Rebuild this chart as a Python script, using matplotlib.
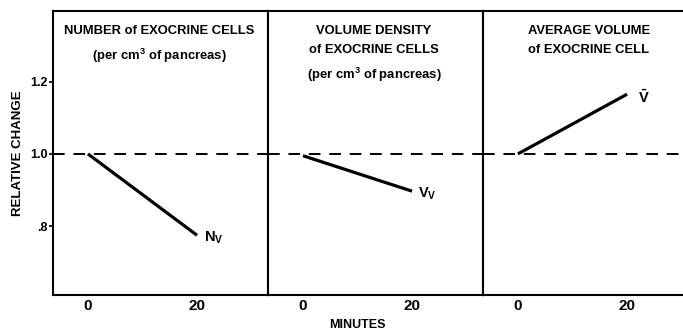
import matplotlib.pyplot as plt

plt.rcParams['font.family'] = ['Liberation Sans', 'DejaVu Sans']
plt.rcParams['font.weight'] = 'bold'
plt.rcParams['axes.labelweight'] = 'bold'
plt.rcParams['mathtext.fontset'] = 'custom'
plt.rcParams['mathtext.rm'] = 'Liberation Sans:bold'
plt.rcParams['mathtext.default'] = 'rm'

# relative change at 0 and 20 minutes, one series per panel
minutes = [0, 20]
n_v = [1.0, 0.775]
v_v = [0.995, 0.897]
v_bar = [1.0, 1.165]

titles = [
    'NUMBER of EXOCRINE CELLS\n(per cm$^3$ of pancreas)',
    'VOLUME DENSITY\nof EXOCRINE CELLS\n(per cm$^3$ of pancreas)',
    'AVERAGE VOLUME\nof EXOCRINE CELL',
]
labels = ['N$_V$', 'V$_V$', r'$\bar{V}$']
label_dx = [1.3, 1.0, 2.0]
series = [n_v, v_v, v_bar]
yticks = [0.8, 1.0, 1.2]
yticklabels = ['.8', '1.0', '1.2']

fig = plt.figure(figsize=(6.83, 3.33), dpi=100)

left = 53 / 683
w = 215 / 683
bottom = 38 / 333
h = 284 / 333

for i in range(3):
    ax = fig.add_axes([left + i * w, bottom, w, h])
    ax.set_xlim(-6.4, 33)
    ax.set_ylim(0.61, 1.395)
    ax.axhline(1.0, color='black', lw=1.4, ls=(0, (6, 4.5)))
    ax.plot(minutes, series[i], color='black', lw=2.3, solid_capstyle='butt')
    ax.text(minutes[1] + label_dx[i], series[i][1] - 0.008, labels[i],
            fontsize=10.5, ha='left', va='center')
    ax.text(13, 1.355, titles[i], ha='center', va='top', fontsize=9.4,
            linespacing=1.72)
    for s in ax.spines.values():
        s.set_linewidth(1.5)
    ax.set_xticks(minutes)
    ax.set_xticklabels(['0', '20'], fontsize=11)
    ax.tick_params(axis='x', length=0, pad=3)
    if i == 0:
        ax.set_yticks(yticks)
        ax.set_yticklabels(yticklabels, fontsize=9)
        ax.tick_params(axis='y', length=3, width=1.2, pad=1)
        ax.set_ylabel('RELATIVE CHANGE', fontsize=9.5, labelpad=4)
    else:
        ax.set_yticks([])
    if i == 2:
        ax.spines['right'].set_visible(False)

fig.text(357 / 683, 1 - 325 / 333, 'MINUTES', ha='center', va='center',
         fontsize=9)

plt.savefig('out.png', dpi=100)
